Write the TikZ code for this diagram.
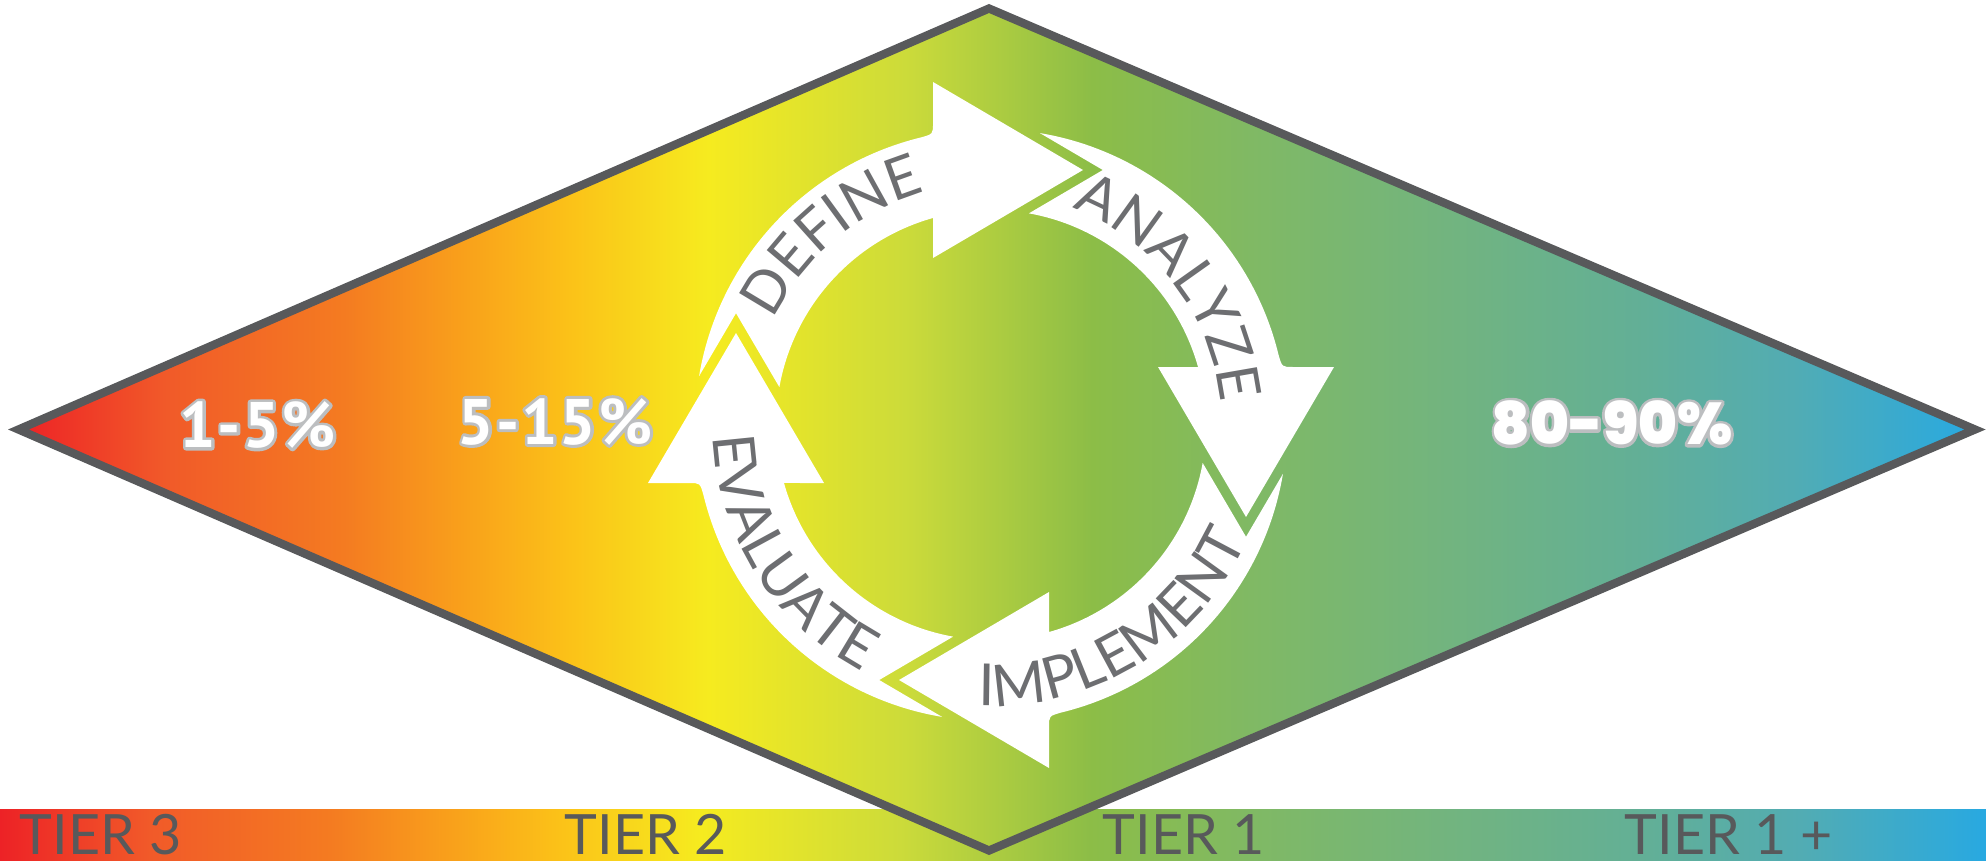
\documentclass[tikz,border=0pt]{standalone}
\usepackage{fontspec}
\usetikzlibrary{calc,decorations.text}

\newfontfamily\latofont{Lato}
\newfontfamily\pctfont{PT Sans}[LetterSpace=3]
\IfFontExistsTF{Poppins Black}
  {\newfontfamily\bigpctfont{Poppins Black}}
  {\newfontfamily\bigpctfont{Poppins}[UprightFont=*-Bold]}

\definecolor{rimgray}{HTML}{58595B}
\definecolor{wordgray}{HTML}{6D6E71}
% colour stops of the tier scale
\definecolor{s0}{HTML}{ED2226}
\definecolor{s1}{HTML}{F15A29}
\definecolor{s2}{HTML}{F47B21}
\definecolor{s3}{HTML}{F9A01B}
\definecolor{s4}{HTML}{FBC218}
\definecolor{s5}{HTML}{F6EB1F}
\definecolor{s6}{HTML}{CCDB3A}
\definecolor{s7}{HTML}{8CBD47}
\definecolor{s8}{HTML}{80B964}
\definecolor{s9}{HTML}{72B47F}
\definecolor{s10}{HTML}{62AF97}
\definecolor{s11}{HTML}{52ACB3}
\definecolor{s12}{HTML}{28A9E1}
\pgfdeclarehorizontalshading{tierscale}{100bp}{color(0bp)=(s0); color(25bp)=(s0);
  color(28.78bp)=(s1); color(33.31bp)=(s2); color(36.33bp)=(s3); color(39.10bp)=(s4);
  color(42.62bp)=(s5); color(47.66bp)=(s6); color(52.44bp)=(s7); color(56.47bp)=(s8);
  color(61.51bp)=(s9); color(66.54bp)=(s10); color(70.32bp)=(s11); color(75bp)=(s12);
  color(100bp)=(s12)}

\newcommand\wordfont{\latofont\fontsize{16.5}{16.5}\selectfont}
% grey rim round white figures: a stroked copy under the filled one
\newcommand\rimstroke[1]{\special{pdf:literal direct 1 Tr 1.7 w 1 j 0.737 0.745 0.753 RG}#1\special{pdf:literal direct 0 Tr}}
\newcommand\rimmed[1]{\rlap{\rimstroke{#1}}#1}

\tikzset{
  pct/.style={font=\pctfont\bfseries\fontsize{18.3}{18.3}\selectfont, text=white, inner sep=0pt},
  bigpct/.style={font=\bigpctfont\fontsize{16.7}{16.7}\selectfont, text=white, inner sep=0pt},
  tier/.style={font=\latofont\fontsize{15.8}{15.8}\selectfont, text=rimgray,
    anchor=base west, inner sep=0pt},
  cycleword/.style={decorate, decoration={text along path, text align=center,
    text color=wordgray, text={|\wordfont|#1}}}
}

\begin{document}
\begin{tikzpicture}[x=0.01cm, y=0.01cm]
  \useasboundingbox (0,0) rectangle (1986,860);

  % scale bar and diamond
  \shade[shading=tierscale] (0,0) rectangle (1986,51);
  \coordinate (top) at (989,851.5);
  \coordinate (right) at (1975,430.5);
  \coordinate (bottom) at (989,9.5);
  \coordinate (left) at (18.5,430.5);
  \shade[shading=tierscale, draw=rimgray, line width=2.36pt, line join=miter]
    (top) -- (right) -- (bottom) -- (left) -- cycle;

  % the four curved arrows
  \begin{scope}[shift={(991,435)}]
    \foreach \k in {0,1,2,3}
      \fill[white, rotate=-90*\k] (105.65:215) -- (-58,167) -- (92,255) -- (-58,343)
        -- (-58,302) .. controls (-58,291) .. (103.68:296)
        arc[start angle=103.68, end angle=170.5, radius=296]
        -- (-255,111.8) -- (169.85:215)
        arc[start angle=169.85, end angle=105.65, radius=215] -- cycle;
    \path[cycleword=DEFINE] (185:242) arc[start angle=185, end angle=75, radius=242];
    \path[cycleword=ANALYZE] (92.6:231) arc[start angle=92.6, end angle=-17.4, radius=231];
    \path[cycleword=IMPLEMENT] (-118.5:281) arc[start angle=-118.5, end angle=1.5, radius=281];
    \path[cycleword=EVALUATE] (157.4:278) arc[start angle=157.4, end angle=267.4, radius=278];
  \end{scope}

  % percentages
  \node[pct] (tierthreepct) at (257.5,435) {\rimmed{1-5\%}};
  \node[pct] (tiertwopct) at (555,438.5) {\rimmed{5-15\%}};
  \node[bigpct] (tieronepct) at (1612,437) {\rimmed{80-90\%}};

  % tier names
  \node[tier] (tierthree) at (19,6) {TIER 3};
  \node[tier] (tiertwo) at (564,6) {TIER 2};
  \node[tier] (tierone) at (1102,6) {TIER 1};
  \node[tier] (tieroneplus) at (1624,6) {TIER 1 +};
\end{tikzpicture}
\end{document}
